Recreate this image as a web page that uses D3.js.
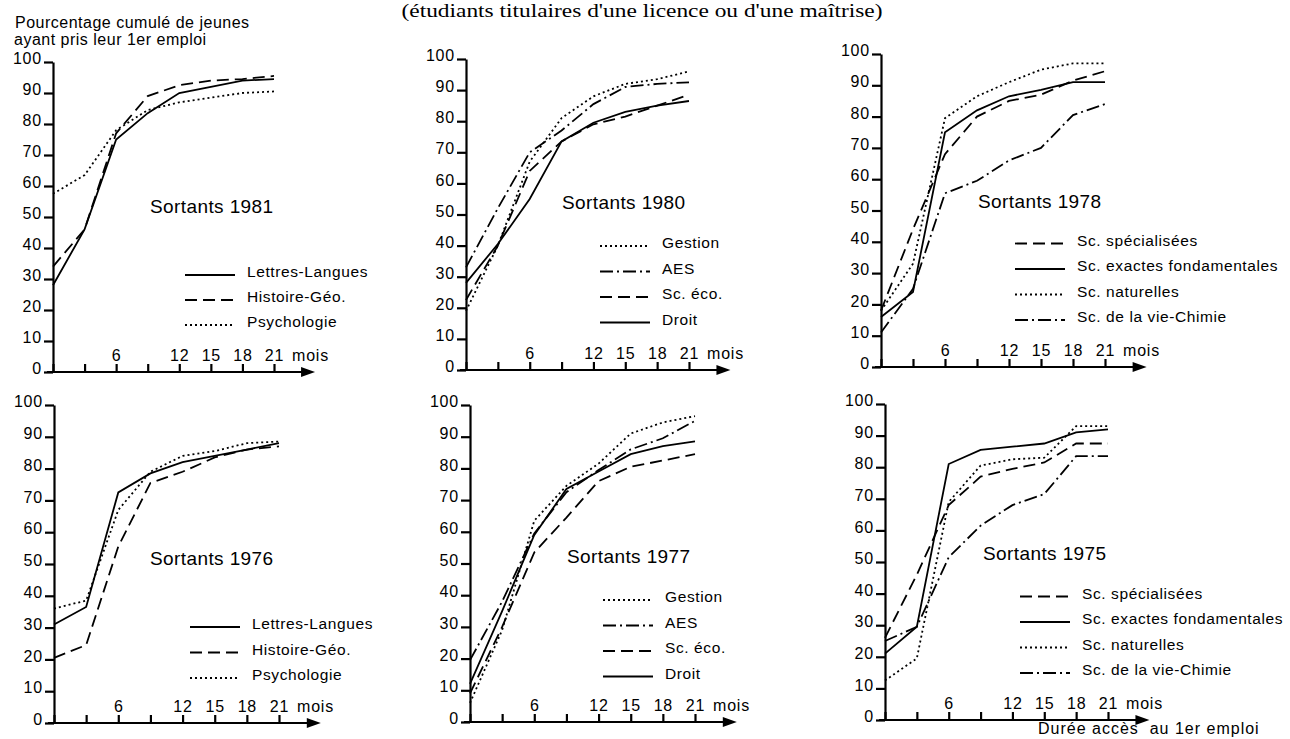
<!DOCTYPE html>
<html>
<head>
<meta charset="utf-8">
<script src="https://cdn.jsdelivr.net/npm/d3@7"></script>
<style>
  body { margin: 0; background: #fff; }
  svg { display: block; font-family: "Liberation Sans", Arial, sans-serif; }
</style>
</head>
<body>
<div id="container"></div>
<script>
/* CONSTANTS AND GLOBALS */
const width = 1290;
const height = 739;

/* DATA */
const months = [0, 3, 6, 9, 12, 15, 18, 21];
const monthLabels = ["", "", "6", "", "12", "15", "18", "21"];
const yTicks = [0, 10, 20, 30, 40, 50, 60, 70, 80, 90, 100];

const lettresCats = ["Lettres-Langues", "Histoire-Géo.", "Psychologie"];
const ecoCats = ["Gestion", "AES", "Sc. éco.", "Droit"];
const sciCats = ["Sc. spécialisées", "Sc. exactes fondamentales", "Sc. naturelles", "Sc. de la vie-Chimie"];

// Sortants 1981
const lettres81 = [28, 46, 75, 83.5, 90, 92, 94, 94.5];
const histoire81 = [34, 46, 77, 89, 92.5, 94, 94.5, 95.5];
const psycho81 = [57.5, 63.5, 78, 84.5, 87, 88.5, 90, 90.5];
// Sortants 1980
const gestion80 = [19, 40, 67, 81, 88, 92, 93.5, 96];
const aes80 = [33, 52, 70, 77, 85.5, 91, 92, 92.5];
const eco80 = [22.5, 40, 64, 73.5, 79, 81.5, 85, 88.5];
const droit80 = [28, 40.5, 55, 73.5, 79.5, 83, 85, 86.5];
// Sortants 1978
const spec78 = [18, 44, 68, 80, 85, 87, 91.5, 94.5];
const exactes78 = [16, 24, 75, 82, 86.5, 88.5, 91, 91];
const nat78 = [18, 33, 79.5, 86.5, 91, 95, 97, 97];
const vie78 = [11, 25, 55.5, 59.5, 66, 70, 80.5, 84];
// Sortants 1976
const lettres76 = [31, 36.5, 72.5, 78.5, 82, 84, 86, 88];
const histoire76 = [20.5, 24.5, 55.5, 75.5, 79, 83.5, 86, 87];
const psycho76 = [36, 38.5, 67, 79, 84, 85.5, 88, 88.5];
// Sortants 1977
const gestion77 = [6, 29, 63.5, 74.5, 81.5, 91, 94.5, 96.5];
const aes77 = [19.5, 38, 59.5, 72.5, 79.5, 86, 89.5, 95];
const eco77 = [9, 30, 53.5, 64.5, 76, 80.5, 82.5, 84.5];
const droit77 = [12, 35, 59, 73.5, 79, 84.5, 87, 88.5];
// Sortants 1975
const spec75 = [26, 46, 68, 77, 79.5, 81.5, 87.5, 87.5];
const exactes75 = [21, 29.5, 81, 85.5, 86.5, 87.5, 91, 92];
const nat75 = [12.5, 19.5, 69, 80.5, 82.5, 83, 93, 93];
const vie75 = [25, 29.5, 51.5, 61.5, 68, 71.5, 83.5, 83.5];

/* LINE STYLES */
const dashOf = {
  solid: null,
  dashed: "12,6",
  dotted: "2,3",
  dashdot: "13,4,2,4"
};
const styleOf = {
  "Lettres-Langues": "solid", "Histoire-Géo.": "dashed", "Psychologie": "dotted",
  "Gestion": "dotted", "AES": "dashdot", "Sc. éco.": "dashed", "Droit": "solid",
  "Sc. spécialisées": "dashed", "Sc. exactes fondamentales": "solid",
  "Sc. naturelles": "dotted", "Sc. de la vie-Chimie": "dashdot"
};

/* PANEL LAYOUT */
const panels = [
  { title: "Sortants 1981", cats: lettresCats, values: [lettres81, histoire81, psycho81],
    x0: 53, x21: 274, y0: 372, y100: 62, tx: 150, ty: 213, lx: 185, ly: 277, ls: 25 },
  { title: "Sortants 1980", cats: ecoCats, values: [gestion80, aes80, eco80, droit80],
    x0: 466, x21: 689, y0: 370, y100: 59, tx: 562, ty: 209, lx: 600, ly: 248, ls: 25.5 },
  { title: "Sortants 1978", cats: sciCats, values: [spec78, exactes78, nat78, vie78],
    x0: 881, x21: 1105, y0: 367, y100: 54, tx: 978, ty: 208, lx: 1015, ly: 245.5, ls: 25.5 },
  { title: "Sortants 1976", cats: lettresCats, values: [lettres76, histoire76, psycho76],
    x0: 54, x21: 279, y0: 723, y100: 405, tx: 150, ty: 565, lx: 190, ly: 629, ls: 25.5 },
  { title: "Sortants 1977", cats: ecoCats, values: [gestion77, aes77, eco77, droit77],
    x0: 470, x21: 695, y0: 722, y100: 405, tx: 567, ty: 563, lx: 603, ly: 602, ls: 25.5 },
  { title: "Sortants 1975", cats: sciCats, values: [spec75, exactes75, nat75, vie75],
    x0: 885, x21: 1108, y0: 720, y100: 404, tx: 983, ty: 560, lx: 1020, ly: 598.5, ls: 25.5 }
];

/* SVG */
const svg = d3.select("#container")
  .append("svg")
  .attr("width", width)
  .attr("height", height)

svg.append("rect").attr("width", width).attr("height", height).attr("fill", "#fff")

// header
svg.append("text")
  .attr("x", 642)
  .attr("y", 17)
  .attr("text-anchor", "middle")
  .attr("textLength", 481)
  .attr("lengthAdjust", "spacingAndGlyphs")
  .style("font-family", "'Liberation Serif', 'Times New Roman', serif")
  .style("font-size", "18px")
  .text("(étudiants titulaires d'une licence ou d'une maîtrise)")

// y axis title
svg.append("text").attr("x", 15).attr("y", 28)
  .style("font-size", "16px").style("letter-spacing", "0.5px")
  .text("Pourcentage cumulé de jeunes")
svg.append("text").attr("x", 14).attr("y", 45)
  .style("font-size", "16px").style("letter-spacing", "0.5px")
  .text("ayant pris leur 1er emploi")

// x axis title
svg.append("text").attr("x", 1038).attr("y", 734)
  .style("font-size", "16px").style("letter-spacing", "1px").style("white-space", "pre")
  .text("Durée accès  au 1er emploi")

const line = (xScale, yScale) => d3.line()
  .x((d, i) => xScale(months[i]))
  .y(d => yScale(d))

panels.forEach(p => {
  const g = svg.append("g")

  /* SCALES */
  const xScale = d3.scaleLinear().domain([0, 21]).range([p.x0, p.x21])
  const yScale = d3.scaleLinear().domain([0, 100]).range([p.y0, p.y100])

  /* AXES */
  const yAxis = d3.axisLeft(yScale)
    .tickValues(yTicks)
    .tickSize(9)
    .tickSizeOuter(0)
    .tickPadding(2)
  const ya = g.append("g")
    .attr("transform", `translate(${p.x0}, 0)`)
    .call(yAxis)
  ya.selectAll("path, line").attr("stroke", "#000").attr("stroke-width", 2.2)
  ya.selectAll("text")
    .attr("dy", "0.1em")
    .attr("fill", "#000")
    .style("font-size", "16px")
    .style("letter-spacing", "0.8px")
    .style("font-family", "'Liberation Sans', Arial, sans-serif")

  const xAxis = d3.axisTop(xScale)
    .tickValues(months)
    .tickSize(8)
    .tickPadding(3)
    .tickFormat((d, i) => monthLabels[i])
  const xa = g.append("g")
    .attr("transform", `translate(0, ${p.y0})`)
    .call(xAxis)
  xa.select(".domain").remove()
  xa.selectAll("line").attr("stroke", "#000").attr("stroke-width", 2.2)
  xa.selectAll("text")
    .attr("fill", "#000")
    .style("font-size", "16px")
    .style("letter-spacing", "0.8px")
    .style("font-family", "'Liberation Sans', Arial, sans-serif")

  // axis line with arrow
  const tip = xScale(24.9)
  g.append("line")
    .attr("x1", p.x0 - 6).attr("x2", tip - 10)
    .attr("y1", p.y0).attr("y2", p.y0)
    .attr("stroke", "#000").attr("stroke-width", 2.2)
  g.append("path")
    .attr("d", `M${tip},${p.y0} L${tip - 14},${p.y0 - 5} L${tip - 14},${p.y0 + 5} Z`)
    .attr("fill", "#000")

  g.append("text")
    .attr("x", xScale(21) + 18)
    .attr("y", p.y0 - 11)
    .style("font-size", "16px")
    .style("letter-spacing", "0.8px")
    .text("mois")

  /* LINES */
  g.selectAll(".serie")
    .data(p.values)
    .join("path")
    .attr("class", "serie")
    .attr("d", d => line(xScale, yScale)(d))
    .attr("fill", "none")
    .attr("stroke", "#000")
    .attr("stroke-width", 1.8)
    .attr("stroke-dasharray", (d, i) => dashOf[styleOf[p.cats[i]]])

  /* TITLE */
  g.append("text")
    .attr("x", p.tx)
    .attr("y", p.ty)
    .style("font-size", "19px")
    .style("letter-spacing", "0.4px")
    .text(p.title)

  /* LEGEND */
  const leg = g.selectAll(".leg")
    .data(p.cats)
    .join("g")
    .attr("class", "leg")
    .attr("transform", (d, i) => `translate(${p.lx}, ${p.ly + i * p.ls})`)
  leg.append("line")
    .attr("x1", 0).attr("x2", 50)
    .attr("y1", -2).attr("y2", -2)
    .attr("stroke", "#000")
    .attr("stroke-width", 1.8)
    .attr("stroke-dasharray", d => dashOf[styleOf[d]])
  leg.append("text")
    .attr("x", 62)
    .attr("y", 0)
    .style("font-size", "15.5px")
    .style("letter-spacing", "0.6px")
    .text(d => d)
})
</script>
</body>
</html>
